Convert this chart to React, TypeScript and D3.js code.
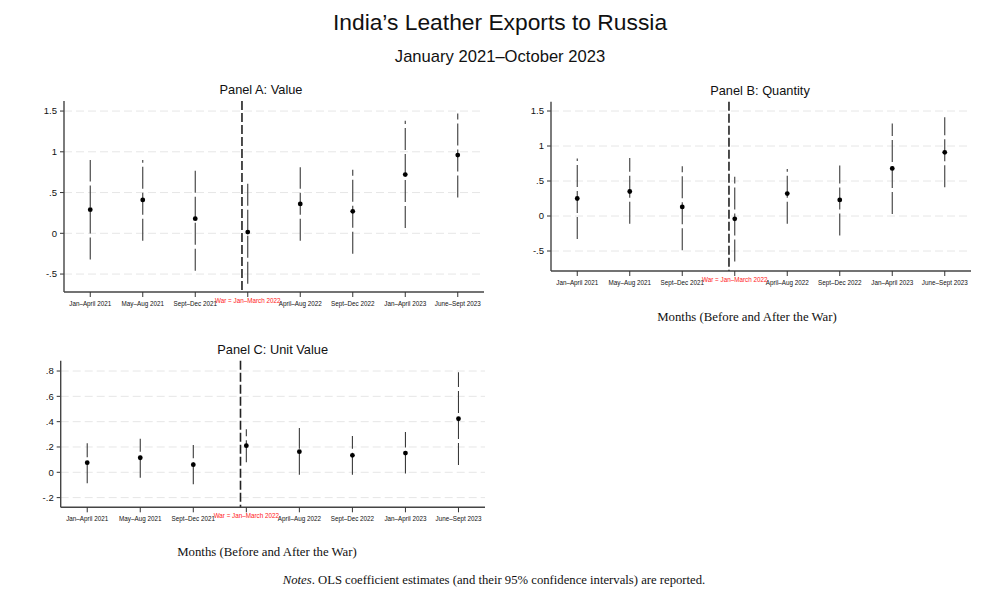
import React from 'react';
import * as d3 from 'd3';

const categories = [
  'Jan–April 2021',
  'May–Aug 2021',
  'Sept–Dec 2021',
  'War = Jan–March 2022',
  'April–Aug 2022',
  'Sept–Dec 2022',
  'Jan–April 2023',
  'June–Sept 2023',
];
const warIndex = 3;
const warLine = 2.89;

// Panel A: Value
const valueEst = [0.29, 0.41, 0.18, 0.015, 0.36, 0.27, 0.72, 0.96];
const valueLo = [-0.32, -0.09, -0.46, -0.62, -0.09, -0.25, 0.065, 0.44];
const valueHi = [0.9, 0.9, 0.81, 0.64, 0.81, 0.78, 1.38, 1.47];
const valueTicks = [-0.5, 0, 0.5, 1, 1.5];
const valueTickLabels = ['-.5', '0', '.5', '1', '1.5'];

// Panel B: Quantity
const qtyEst = [0.25, 0.35, 0.13, -0.04, 0.32, 0.23, 0.68, 0.91];
const qtyLo = [-0.33, -0.11, -0.49, -0.65, -0.11, -0.28, 0.03, 0.41];
const qtyHi = [0.82, 0.83, 0.71, 0.56, 0.67, 0.72, 1.32, 1.41];
const qtyTicks = [-0.5, 0, 0.5, 1, 1.5];
const qtyTickLabels = ['-.5', '0', '.5', '1', '1.5'];

// Panel C: Unit Value
const uvEst = [0.076, 0.115, 0.06, 0.21, 0.163, 0.134, 0.152, 0.423];
const uvLo = [-0.087, -0.043, -0.095, 0.08, -0.02, -0.02, -0.01, 0.058];
const uvHi = [0.23, 0.265, 0.215, 0.34, 0.35, 0.287, 0.318, 0.79];
const uvTicks = [-0.2, 0, 0.2, 0.4, 0.6, 0.8];
const uvTickLabels = ['-.2', '0', '.2', '.4', '.6', '.8'];

const sans = 'Liberation Sans, Arial, Helvetica, sans-serif';
const serif = 'Liberation Serif, Times New Roman, serif';

type PanelProps = {
  title: string;
  titleX: number;
  est: number[];
  lo: number[];
  hi: number[];
  ticks: number[];
  tickLabels: string[];
  yDomain: [number, number];
  left: number;
  right: number;
  top: number;
  bottom: number;
  xTitle?: string;
  xTitleX?: number;
  xTitleY?: number;
};

const Panel: React.FC<PanelProps> = (p) => {
  const x = d3.scaleLinear().domain([-0.5, categories.length - 0.5]).range([p.left, p.right]);
  const y = d3.scaleLinear().domain(p.yDomain).range([p.bottom, p.top]);
  const clipId = `clip-${p.title.replace(/\W/g, '')}`;
  return (
    <g>
      <defs>
        <clipPath id={clipId}>
          <rect x={p.left} y={p.top} width={p.right - p.left} height={p.bottom - p.top} />
        </clipPath>
      </defs>
      <text x={p.titleX} y={p.top - 7} textAnchor="middle" fontFamily={sans} fontSize={12.8} fill="#111">
        {p.title}
      </text>
      {p.ticks.map((t, i) => (
        <g key={t}>
          <line x1={p.left} x2={p.right} y1={y(t)} y2={y(t)} stroke="#e6e6e6" strokeWidth={1} strokeDasharray="8,4" />
          <line x1={p.left - 4} x2={p.left} y1={y(t)} y2={y(t)} stroke="#333" strokeWidth={1} />
          <text x={p.left - 7} y={y(t)} dy="0.35em" textAnchor="end" fontFamily={sans} fontSize={9.5} fill="#111">
            {p.tickLabels[i]}
          </text>
        </g>
      ))}
      <line x1={x(warLine)} x2={x(warLine)} y1={p.top} y2={p.bottom} stroke="#222" strokeWidth={1.6} strokeDasharray="9,3" />
      <g clipPath={`url(#${clipId})`}>
        {p.est.map((v, i) => (
          <line key={i} x1={x(i)} x2={x(i)} y1={y(p.lo[i])} y2={y(p.hi[i])} stroke="#3a3a3a" strokeWidth={1.1} strokeDasharray="22,4" />
        ))}
      </g>
      {p.est.map((v, i) => (
        <circle key={i} cx={x(i)} cy={y(v)} r={2.4} fill="#000" />
      ))}
      <line x1={p.left} x2={p.left} y1={p.top} y2={p.bottom} stroke="#444" strokeWidth={1.4} />
      <line x1={p.left} x2={p.right} y1={p.bottom} y2={p.bottom} stroke="#444" strokeWidth={1.4} />
      {categories.map((c, i) => (
        <g key={c}>
          <line x1={x(i)} x2={x(i)} y1={p.bottom} y2={p.bottom + 5} stroke="#333" strokeWidth={1} />
          <text
            x={x(i)}
            y={i === warIndex ? p.bottom + 11 : p.bottom + 14}
            textAnchor="middle"
            fontFamily={sans}
            fontSize={6.3}
            fill={i === warIndex ? '#ff2020' : '#111'}
          >
            {c}
          </text>
        </g>
      ))}
      {p.xTitle && (
        <text x={p.xTitleX} y={p.xTitleY} textAnchor="middle" fontFamily={serif} fontSize={12.8} fill="#111">
          {p.xTitle}
        </text>
      )}
    </g>
  );
};

const App: React.FC = () => {
  const xTitle = 'Months (Before and After the War)';
  return (
    <svg width={1000} height={600} style={{ position: 'absolute', left: 0, top: 0, background: '#fff' }}>
      <rect width={1000} height={600} fill="#fff" />
      <text x={500} y={30} textAnchor="middle" fontFamily={sans} fontSize={22.8} fill="#111">
        India’s Leather Exports to Russia
      </text>
      <text x={500} y={62} textAnchor="middle" fontFamily={sans} fontSize={16.6} fill="#111">
        January 2021–October 2023
      </text>
      <Panel
        title="Panel A: Value"
        titleX={261}
        est={valueEst}
        lo={valueLo}
        hi={valueHi}
        ticks={valueTicks}
        tickLabels={valueTickLabels}
        yDomain={[(233.3 - 292) / 81.5, (233.3 - 101) / 81.5]}
        left={64}
        right={484}
        top={101}
        bottom={292}
      />
      <Panel
        title="Panel B: Quantity"
        titleX={760}
        est={qtyEst}
        lo={qtyLo}
        hi={qtyHi}
        ticks={qtyTicks}
        tickLabels={qtyTickLabels}
        yDomain={[(216 - 271) / 70, (216 - 101.7) / 70]}
        left={551}
        right={971}
        top={101.7}
        bottom={271}
        xTitle={xTitle}
        xTitleX={747}
        xTitleY={321}
      />
      <Panel
        title="Panel C: Unit Value"
        titleX={272.7}
        est={uvEst}
        lo={uvLo}
        hi={uvHi}
        ticks={uvTicks}
        tickLabels={uvTickLabels}
        yDomain={[(472.3 - 507.3) / 126.6, (472.3 - 360.7) / 126.6]}
        left={60.7}
        right={485}
        top={360.7}
        bottom={507.3}
        xTitle={xTitle}
        xTitleX={267}
        xTitleY={556}
      />
      <text x={494} y={584} textAnchor="middle" fontFamily={serif} fontSize={12.7} fill="#111">
        <tspan fontStyle="italic">Notes</tspan>. OLS coefficient estimates (and their 95% confidence intervals) are reported.
      </text>
    </svg>
  );
};

export default App;
